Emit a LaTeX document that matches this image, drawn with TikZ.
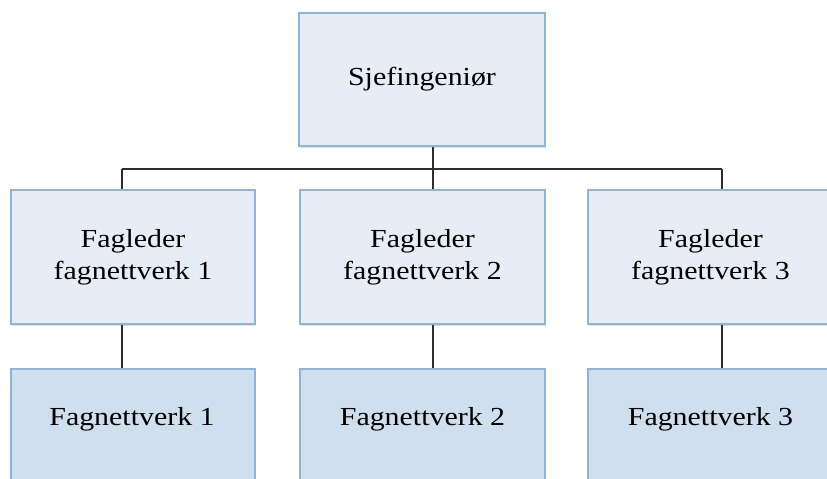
\documentclass[tikz,border=0pt]{standalone}
\usepackage{fontspec}
\setmainfont{Liberation Serif}[FakeStretch=1.15]
\usetikzlibrary{shadows}
\definecolor{boxedge}{HTML}{8DB4DC}
\definecolor{fillA}{HTML}{E6EDF6}
\definecolor{fillB}{HTML}{D0DFEE}
\definecolor{linec}{HTML}{2E2E2E}
\tikzset{
  box/.style={draw=boxedge, line width=1.5pt, fill=fillA, align=center,
    inner sep=0pt, font=\fontsize{19.5}{24}\selectfont,
    drop shadow={shadow xshift=0.8pt, shadow yshift=-1.6pt, opacity=0.12, fill=black}},
  botbox/.style={box, fill=fillB},
  lbl/.style={inner sep=0pt, font=\fontsize{19.5}{24}\selectfont, anchor=base},
  conn/.style={draw=linec, line width=1.3pt}
}
\begin{document}
\begin{tikzpicture}[x=0.75pt, y=-0.75pt]
\fill[white] (0,0) rectangle (827,478);
\useasboundingbox (0,0) rectangle (827,478);
\begin{scope}
\clip (0,0) rectangle (827,478);
% top
\node[box, minimum width=246*0.75pt, minimum height=133*0.75pt] (top) at (422,79.5) {Sjefingeniør};
% middle
\node[box, minimum width=244*0.75pt, minimum height=134*0.75pt] (m1) at (133,257) {Fagleder\\fagnettverk 1};
\node[box, minimum width=245*0.75pt, minimum height=134*0.75pt] (m2) at (422.5,257) {Fagleder\\fagnettverk 2};
\node[box, minimum width=245*0.75pt, minimum height=134*0.75pt] (m3) at (710.5,257) {Fagleder\\fagnettverk 3};
% bottom
\node[botbox, minimum width=244*0.75pt, minimum height=134*0.75pt] (b1) at (133,436) {};
\node[botbox, minimum width=245*0.75pt, minimum height=134*0.75pt] (b2) at (422.5,436) {};
\node[botbox, minimum width=245*0.75pt, minimum height=134*0.75pt] (b3) at (710.5,436) {};
\node[lbl] (b1t) at (132,425) {Fagnettverk 1};
\node[lbl] (b2t) at (422.5,425) {Fagnettverk 2};
\node[lbl] (b3t) at (710.5,425) {Fagnettverk 3};
% connectors
\coordinate (j0) at (433,169);
\coordinate (j1) at (122,169);
\coordinate (j3) at (722,169);
\draw[conn] (top.south -| j0) -- (j0);
\draw[conn] (j1) -- (j3);
\draw[conn] (j1) -- (j1 |- m1.north);
\draw[conn] (j0) -- (j0 |- m2.north);
\draw[conn] (j3) -- (j3 |- m3.north);
\draw[conn] (m1.south -| j1) -- (b1.north -| j1);
\draw[conn] (m2.south -| j0) -- (b2.north -| j0);
\draw[conn] (m3.south -| j3) -- (b3.north -| j3);
\end{scope}
\end{tikzpicture}
\end{document}
